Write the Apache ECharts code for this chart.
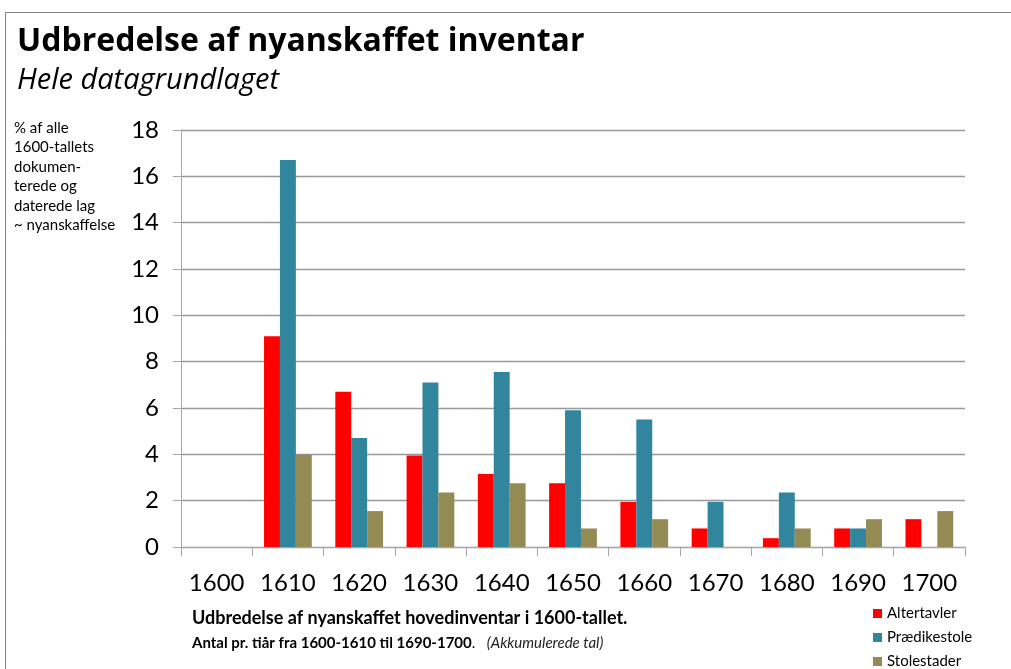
<!DOCTYPE html>
<html>
<head>
<meta charset="utf-8">
<script src="https://cdn.jsdelivr.net/npm/echarts@6/dist/echarts.min.js"></script>
<style>
  html, body { margin: 0; padding: 0; background: #fff; }
  #chart { width: 1011px; height: 669px; }
</style>
</head>
<body>
<div id="chart"></div>
<script>
// decades on the x axis
var decades = ['1600', '1610', '1620', '1630', '1640', '1650', '1660', '1670', '1680', '1690', '1700'];

// % af alle dokumenterede og daterede lag
var altertavler   = [0, 9.1, 6.7, 3.95, 3.15, 2.75, 1.95, 0.8, 0.38, 0.8, 1.2];
var praedikestole = [0, 16.7, 4.7, 7.1, 7.55, 5.9, 5.5, 1.95, 2.35, 0.8, 0];
var stolestader   = [0, 3.98, 1.55, 2.35, 2.75, 0.8, 1.2, 0, 0.8, 1.2, 1.55];

var font = 'Lato, "Open Sans", sans-serif';
var titleFont = '"Open Sans", Lato, sans-serif';

var chart = echarts.init(document.getElementById('chart'));

var option = {
  backgroundColor: '#fff',
  animation: false,
  textStyle: { fontFamily: font },
  title: [
    {
      text: 'Udbredelse af nyanskaffet inventar',
      left: 12, top: 21,
      textStyle: { fontSize: 32, fontWeight: 'bold', color: '#000', fontFamily: titleFont }
    },
    {
      text: 'Hele datagrundlaget',
      left: 12, top: 61,
      textStyle: { fontSize: 29, fontStyle: 'italic', fontWeight: 'normal', color: '#000', fontFamily: titleFont }
    }
  ],
  legend: {
    orient: 'vertical',
    left: 868, top: 601,
    height: 90,
    itemWidth: 9, itemHeight: 9,
    itemGap: 9,
    icon: 'rect',
    textStyle: { fontSize: 15, color: '#000', fontFamily: font },
    data: ['Altertavler', 'Prædikestole', 'Stolestader']
  },
  grid: { left: 181, right: 46, top: 130, bottom: 122 },
  xAxis: {
    type: 'category',
    data: decades,
    axisLine: { lineStyle: { color: '#a6a6a6', width: 1 } },
    axisTick: { show: true, alignWithLabel: false, length: 9, lineStyle: { color: '#a6a6a6' } },
    axisLabel: { interval: 0, fontSize: 24, color: '#000', margin: 24, fontFamily: font }
  },
  yAxis: {
    type: 'value',
    min: 0, max: 18, interval: 2,
    axisLine: { show: true, lineStyle: { color: '#a6a6a6', width: 1 } },
    axisTick: { show: true, length: 8, lineStyle: { color: '#a6a6a6' } },
    axisLabel: { fontSize: 24, color: '#000', margin: 22, fontFamily: font },
    splitLine: { lineStyle: { color: '#999', width: 1.3 } }
  },
  series: [
    {
      name: 'Altertavler', type: 'bar', data: altertavler,
      itemStyle: { color: '#ff0000' },
      barGap: '0%', barCategoryGap: '33%'
    },
    {
      name: 'Prædikestole', type: 'bar', data: praedikestole,
      itemStyle: { color: '#31859c' },
      barGap: '0%', barCategoryGap: '33%'
    },
    {
      name: 'Stolestader', type: 'bar', data: stolestader,
      itemStyle: { color: '#948a54' },
      barGap: '0%', barCategoryGap: '33%'
    }
  ],
  graphic: [
    {
      type: 'polyline',
      shape: { points: [[5.5, 669], [5.5, 12.5], [1011, 12.5]] },
      style: { stroke: '#808080', lineWidth: 1, fill: null }
    },
    {
      type: 'text', left: 14, top: 118,
      style: {
        text: '% af alle\n1600-tallets\ndokumen-\nterede og\ndaterede lag\n~ nyanskaffelse',
        font: '15px ' + font, lineHeight: 19.5, fill: '#000'
      }
    },
    {
      type: 'text', left: 192, top: 609,
      style: {
        text: 'Udbredelse af nyanskaffet hovedinventar i 1600-tallet.',
        font: 'bold 18px ' + font, fill: '#000'
      }
    },
    {
      type: 'text', left: 192, top: 636,
      style: {
        text: '{b|Antal pr. tiår fra 1600-1610 til 1690-1700}{n|.   }{i|(Akkumulerede tal)}',
        rich: {
          b: { font: 'bold 15px ' + font, fill: '#000' },
          n: { font: '15px ' + font, fill: '#000' },
          i: { font: 'italic 15px ' + font, fill: '#222' }
        }
      }
    }
  ]
};

chart.setOption(option);
</script>
</body>
</html>
